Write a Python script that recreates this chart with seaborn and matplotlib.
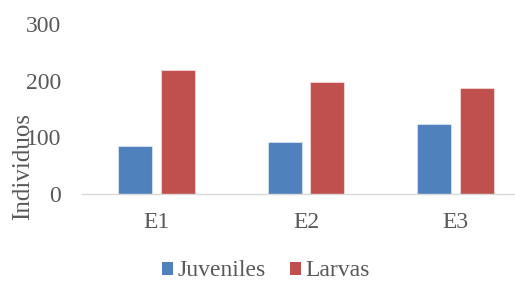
import pandas as pd
import matplotlib
matplotlib.use("Agg")
import matplotlib.pyplot as plt
import seaborn as sns

# Datos
estaciones = ["E1", "E2", "E3"]
juveniles = [85, 91, 123]
larvas = [218, 198, 187]
series = ["Juveniles", "Larvas"]
colores = ["#4F81BD", "#C0504D"]

df = pd.DataFrame({"Estación": estaciones, "Juveniles": juveniles, "Larvas": larvas})
df_largo = df.melt(id_vars="Estación", var_name="Serie", value_name="Individuos")

sns.set_style("white")
plt.rcParams["font.family"] = ["Liberation Serif", "DejaVu Serif"]

fig = plt.figure(figsize=(5.15, 2.84), dpi=100)
ax = fig.add_axes([82 / 515, 90 / 284, 433 / 515, 170 / 284])

sns.barplot(data=df_largo, x="Estación", y="Individuos", hue="Serie",
            hue_order=series, palette=colores, saturation=1, width=0.57, gap=0.2,
            edgecolor=(1, 1, 1, 0.45), linewidth=0.8, ax=ax, legend=False)

ax.set_xlim(-0.5, 2.4)
ax.set_ylim(0, 300)
ax.set_yticks([0, 100, 200, 300])

for lado in ["left", "top", "right"]:
    ax.spines[lado].set_visible(False)
ax.spines["bottom"].set_color("#D9D9D9")
ax.spines["bottom"].set_linewidth(1.0)

ax.tick_params(axis="y", length=0, pad=15, labelsize=17, labelcolor="#595959")
ax.tick_params(axis="x", length=0, pad=13, labelsize=17, labelcolor="#595959")

ax.set_xlabel("")
# en el original la etiqueta se superpone con los números del eje
ax.set_ylabel("Individuos", fontsize=18, color="#595959", va="center")
ax.yaxis.set_label_coords((23 - 82) / 433, (194 - 167) / 170)

manejadores = [plt.Rectangle((0, 0), 1, 1, facecolor=c, edgecolor="none") for c in colores]
fig.legend(manejadores, series, loc="center", bbox_to_anchor=(266 / 515, 1 - 271 / 284),
           ncol=2, frameon=False, fontsize=17, labelcolor="#595959",
           handlelength=0.47, handleheight=0.47, handletextpad=0.2,
           columnspacing=1.0, borderpad=0)

fig.savefig("out.png", dpi=100)
